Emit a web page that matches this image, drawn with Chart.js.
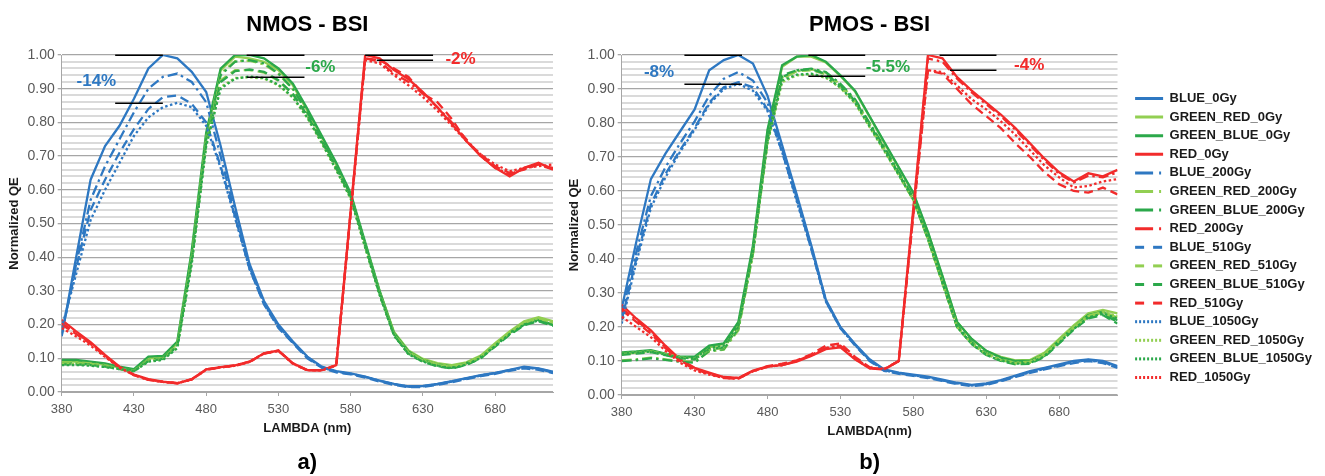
<!DOCTYPE html>
<html><head><meta charset="utf-8">
<script src="https://cdn.jsdelivr.net/npm/chart.js@4.4.1/dist/chart.umd.min.js"></script>
<style>
html,body{margin:0;padding:0;background:#fff;}
#wrap{position:relative;width:1325px;height:476px;overflow:hidden;background:#fff;}
#c1{position:absolute;left:0;top:0;}
#c2{position:absolute;left:530px;top:0;}
</style></head><body>
<div id="wrap"><canvas id="c1" width="560" height="476"></canvas><canvas id="c2" width="795" height="476"></canvas></div>
<script>
// ---------------- DATA ----------------
const wavelengths = [380,390,400,410,420,430,440,450,460,470,480,490,500,510,520,530,540,550,560,570,580,590,600,610,620,630,640,650,660,670,680,690,700,710,720];
const xTickValues = [380,430,480,530,580,630,680];
const channels = ['BLUE','GREEN_RED','GREEN_BLUE','RED'];
const doses = ['0Gy','200Gy','510Gy','1050Gy'];

// NMOS - BSI
const nmosBlue0    = [0.165,0.40,0.63,0.73,0.79,0.87,0.96,1.00,0.99,0.95,0.89,0.73,0.55,0.38,0.27,0.20,0.15,0.105,0.075,0.062,0.055,0.046,0.034,0.024,0.017,0.018,0.024,0.032,0.041,0.050,0.057,0.066,0.075,0.070,0.060];
const nmosBlue200  = [0.170,0.38,0.57,0.67,0.75,0.83,0.90,0.935,0.945,0.92,0.86,0.70,0.53,0.37,0.265,0.195,0.148,0.103,0.074,0.060,0.054,0.045,0.033,0.023,0.016,0.017,0.023,0.031,0.040,0.049,0.056,0.065,0.073,0.068,0.058];
const nmosBlue510  = [0.175,0.37,0.54,0.63,0.71,0.78,0.84,0.875,0.88,0.855,0.80,0.67,0.52,0.365,0.26,0.19,0.145,0.100,0.072,0.058,0.052,0.043,0.031,0.021,0.014,0.015,0.021,0.029,0.038,0.047,0.054,0.063,0.070,0.066,0.056];
const nmosBlue1050 = [0.190,0.35,0.51,0.60,0.68,0.76,0.815,0.845,0.858,0.845,0.79,0.665,0.515,0.365,0.262,0.192,0.147,0.102,0.073,0.060,0.054,0.045,0.033,0.023,0.016,0.017,0.023,0.031,0.040,0.049,0.056,0.065,0.073,0.069,0.059];

const nmosGreenRed0    = [0.090,0.090,0.088,0.082,0.072,0.065,0.100,0.103,0.145,0.41,0.76,0.955,0.995,0.99,0.98,0.955,0.91,0.835,0.755,0.675,0.585,0.44,0.30,0.178,0.123,0.098,0.086,0.080,0.088,0.108,0.145,0.180,0.210,0.222,0.210];
const nmosGreenRed200  = [0.088,0.088,0.085,0.080,0.070,0.064,0.097,0.101,0.142,0.405,0.755,0.945,0.982,0.983,0.972,0.944,0.898,0.828,0.748,0.668,0.583,0.438,0.296,0.173,0.118,0.095,0.082,0.077,0.086,0.106,0.142,0.177,0.207,0.220,0.207];
const nmosGreenRed510  = [0.085,0.085,0.083,0.078,0.069,0.063,0.094,0.099,0.138,0.395,0.745,0.925,0.955,0.955,0.948,0.923,0.883,0.818,0.743,0.663,0.578,0.433,0.291,0.170,0.116,0.093,0.080,0.075,0.084,0.104,0.140,0.175,0.205,0.218,0.205];
const nmosGreenRed1050 = [0.083,0.083,0.080,0.076,0.068,0.062,0.092,0.097,0.133,0.385,0.735,0.905,0.932,0.934,0.930,0.910,0.873,0.813,0.738,0.658,0.573,0.428,0.289,0.169,0.115,0.093,0.080,0.075,0.084,0.105,0.140,0.176,0.206,0.218,0.205];

const nmosGreenBlue0    = [0.095,0.095,0.090,0.085,0.075,0.068,0.105,0.107,0.150,0.42,0.77,0.96,1.00,1.00,0.99,0.96,0.915,0.84,0.76,0.68,0.59,0.445,0.30,0.175,0.120,0.095,0.082,0.076,0.085,0.105,0.140,0.175,0.205,0.215,0.200];
const nmosGreenBlue200  = [0.085,0.085,0.082,0.078,0.070,0.065,0.095,0.100,0.140,0.40,0.75,0.94,0.98,0.985,0.975,0.945,0.90,0.83,0.75,0.67,0.585,0.44,0.295,0.170,0.115,0.092,0.078,0.072,0.082,0.102,0.138,0.172,0.200,0.212,0.198];
const nmosGreenBlue510  = [0.082,0.082,0.080,0.075,0.068,0.062,0.092,0.098,0.135,0.39,0.74,0.92,0.952,0.957,0.95,0.925,0.885,0.82,0.745,0.665,0.58,0.435,0.29,0.168,0.113,0.090,0.076,0.070,0.080,0.100,0.135,0.170,0.198,0.210,0.196];
const nmosGreenBlue1050 = [0.080,0.080,0.078,0.074,0.068,0.062,0.090,0.095,0.130,0.38,0.73,0.90,0.93,0.936,0.932,0.912,0.875,0.815,0.74,0.66,0.575,0.43,0.288,0.167,0.112,0.090,0.077,0.071,0.081,0.101,0.137,0.172,0.200,0.212,0.198];

const nmosRed0    = [0.214,0.180,0.148,0.110,0.075,0.052,0.038,0.031,0.026,0.038,0.067,0.074,0.079,0.090,0.115,0.123,0.085,0.065,0.065,0.080,0.54,1.00,0.99,0.955,0.928,0.89,0.845,0.795,0.745,0.700,0.665,0.640,0.665,0.680,0.660];
const nmosRed200  = [0.205,0.175,0.145,0.108,0.074,0.051,0.037,0.030,0.026,0.038,0.067,0.074,0.079,0.090,0.115,0.123,0.085,0.065,0.065,0.080,0.535,0.99,0.98,0.945,0.920,0.885,0.845,0.800,0.750,0.700,0.665,0.645,0.665,0.675,0.665];
const nmosRed510  = [0.200,0.172,0.143,0.107,0.073,0.050,0.036,0.030,0.026,0.037,0.066,0.073,0.078,0.089,0.114,0.122,0.084,0.064,0.064,0.079,0.535,0.99,0.985,0.960,0.935,0.885,0.860,0.810,0.745,0.705,0.670,0.650,0.660,0.675,0.660];
const nmosRed1050 = [0.190,0.165,0.138,0.104,0.072,0.050,0.036,0.030,0.026,0.037,0.066,0.073,0.078,0.089,0.114,0.122,0.084,0.064,0.064,0.079,0.530,0.985,0.975,0.940,0.910,0.875,0.835,0.790,0.745,0.705,0.675,0.655,0.665,0.670,0.675];

// PMOS - BSI
const pmosBlue0    = [0.255,0.45,0.635,0.71,0.775,0.84,0.955,0.985,1.00,0.975,0.88,0.735,0.59,0.44,0.28,0.20,0.15,0.105,0.075,0.066,0.060,0.054,0.045,0.036,0.030,0.034,0.044,0.057,0.070,0.080,0.090,0.100,0.105,0.100,0.085];
const pmosBlue200  = [0.235,0.42,0.585,0.67,0.74,0.805,0.88,0.93,0.95,0.925,0.86,0.725,0.58,0.435,0.278,0.198,0.148,0.103,0.073,0.064,0.058,0.052,0.043,0.034,0.028,0.032,0.042,0.055,0.068,0.078,0.088,0.097,0.103,0.097,0.083];
const pmosBlue510  = [0.220,0.40,0.56,0.65,0.72,0.785,0.86,0.905,0.92,0.905,0.84,0.715,0.575,0.43,0.275,0.196,0.146,0.100,0.071,0.062,0.056,0.050,0.041,0.032,0.026,0.030,0.040,0.053,0.065,0.075,0.085,0.094,0.100,0.094,0.080];
const pmosBlue1050 = [0.210,0.39,0.55,0.64,0.715,0.78,0.855,0.90,0.915,0.895,0.835,0.715,0.57,0.43,0.275,0.197,0.147,0.102,0.073,0.064,0.058,0.052,0.043,0.034,0.028,0.032,0.042,0.055,0.067,0.077,0.087,0.096,0.102,0.096,0.082];

const pmosGreenRed0    = [0.120,0.125,0.130,0.120,0.112,0.110,0.140,0.150,0.210,0.43,0.775,0.965,0.995,0.995,0.978,0.938,0.893,0.818,0.742,0.668,0.592,0.478,0.348,0.215,0.165,0.130,0.112,0.102,0.103,0.125,0.165,0.205,0.240,0.250,0.240];
const pmosGreenRed200  = [0.102,0.105,0.110,0.105,0.100,0.097,0.128,0.133,0.190,0.415,0.745,0.93,0.952,0.958,0.948,0.913,0.868,0.798,0.728,0.653,0.578,0.463,0.333,0.205,0.156,0.123,0.105,0.095,0.098,0.120,0.160,0.200,0.233,0.245,0.228];
const pmosGreenRed510  = [0.120,0.124,0.128,0.119,0.110,0.106,0.133,0.138,0.198,0.42,0.75,0.935,0.952,0.955,0.943,0.908,0.863,0.793,0.723,0.648,0.573,0.458,0.328,0.200,0.151,0.120,0.102,0.093,0.096,0.118,0.158,0.198,0.230,0.242,0.225];
const pmosGreenRed1050 = [0.123,0.126,0.129,0.120,0.111,0.108,0.136,0.143,0.200,0.415,0.74,0.92,0.94,0.943,0.933,0.903,0.858,0.788,0.718,0.646,0.573,0.458,0.328,0.200,0.151,0.120,0.103,0.094,0.097,0.119,0.159,0.199,0.232,0.245,0.232];

const pmosGreenBlue0    = [0.125,0.128,0.132,0.122,0.113,0.113,0.145,0.152,0.215,0.44,0.78,0.97,0.995,1.00,0.98,0.94,0.895,0.82,0.745,0.67,0.595,0.48,0.35,0.215,0.165,0.130,0.110,0.100,0.100,0.120,0.160,0.200,0.235,0.245,0.220];
const pmosGreenBlue200  = [0.100,0.103,0.108,0.103,0.098,0.095,0.130,0.135,0.195,0.42,0.75,0.935,0.955,0.96,0.95,0.915,0.87,0.80,0.73,0.655,0.58,0.465,0.335,0.205,0.155,0.122,0.103,0.093,0.095,0.115,0.155,0.195,0.228,0.238,0.215];
const pmosGreenBlue510  = [0.118,0.122,0.126,0.117,0.108,0.105,0.135,0.140,0.200,0.425,0.755,0.94,0.955,0.958,0.945,0.91,0.865,0.795,0.725,0.65,0.575,0.46,0.33,0.200,0.150,0.118,0.100,0.090,0.092,0.112,0.152,0.192,0.225,0.235,0.210];
const pmosGreenBlue1050 = [0.122,0.125,0.128,0.118,0.110,0.108,0.138,0.145,0.205,0.42,0.745,0.925,0.942,0.945,0.935,0.905,0.86,0.79,0.72,0.648,0.575,0.46,0.33,0.200,0.150,0.118,0.101,0.092,0.094,0.114,0.154,0.194,0.228,0.240,0.225];

const pmosRed0    = [0.265,0.225,0.190,0.145,0.105,0.080,0.066,0.053,0.050,0.072,0.084,0.088,0.098,0.115,0.135,0.140,0.105,0.078,0.075,0.100,0.55,1.00,0.99,0.935,0.895,0.860,0.825,0.785,0.740,0.695,0.655,0.628,0.652,0.643,0.662];
const pmosRed200  = [0.255,0.220,0.185,0.140,0.102,0.078,0.064,0.052,0.050,0.070,0.083,0.088,0.100,0.118,0.138,0.145,0.108,0.080,0.076,0.100,0.54,0.99,0.98,0.930,0.890,0.855,0.820,0.780,0.735,0.690,0.650,0.625,0.645,0.640,0.655];
const pmosRed510  = [0.250,0.215,0.180,0.138,0.100,0.076,0.062,0.050,0.048,0.070,0.085,0.092,0.102,0.120,0.145,0.152,0.112,0.082,0.077,0.100,0.53,0.955,0.945,0.900,0.855,0.820,0.785,0.740,0.700,0.655,0.620,0.600,0.595,0.610,0.590];
const pmosRed1050 = [0.230,0.200,0.170,0.130,0.095,0.072,0.060,0.050,0.048,0.070,0.083,0.088,0.100,0.116,0.138,0.145,0.106,0.079,0.076,0.100,0.535,0.955,0.95,0.910,0.870,0.840,0.805,0.765,0.720,0.675,0.640,0.610,0.615,0.628,0.635];

// Annotation marks (wavelength from, wavelength to, QE) and labels (text, wavelength, QE, channel)
const nmosMarkLines  = [[417,450,1.0],[417,450,0.858],[508,548,1.0],[508,548,0.936],[590,637,1.0],[598,637,0.985]];
const nmosMarkLabels = [['-14%',404,0.923,'BLUE'],['-6%',559,0.964,'GREEN_BLUE'],['-2%',656,0.988,'RED']];
const pmosMarkLines  = [[423,462.5,1.0],[423,462.5,0.915],[508,547,1.0],[508,547,0.939],[598,637,1.0],[605,637,0.956]];
const pmosMarkLabels = [['-8%',405.6,0.95,'BLUE'],['-5.5%',562.6,0.965,'GREEN_BLUE'],['-4%',659.4,0.971,'RED']];

// ---------------- STYLE ----------------
const FONT = "'Liberation Sans', Arial, sans-serif";
Chart.defaults.font.family = FONT;
const chColor = {BLUE:'#2e78c2', GREEN_RED:'#92cf52', GREEN_BLUE:'#2ba84a', RED:'#f22b2b'};
const doseDash = {'0Gy':[], '200Gy':[10,4,2.5,4], '510Gy':[9,5], '1050Gy':[2.5,2.5]};
const legendDash = {'0Gy':[], '200Gy':[18,6,2,6], '510Gy':[9,9], '1050Gy':[2,2]};

const nmosTable = {BLUE:[nmosBlue0,nmosBlue200,nmosBlue510,nmosBlue1050], GREEN_RED:[nmosGreenRed0,nmosGreenRed200,nmosGreenRed510,nmosGreenRed1050], GREEN_BLUE:[nmosGreenBlue0,nmosGreenBlue200,nmosGreenBlue510,nmosGreenBlue1050], RED:[nmosRed0,nmosRed200,nmosRed510,nmosRed1050]};
const pmosTable = {BLUE:[pmosBlue0,pmosBlue200,pmosBlue510,pmosBlue1050], GREEN_RED:[pmosGreenRed0,pmosGreenRed200,pmosGreenRed510,pmosGreenRed1050], GREEN_BLUE:[pmosGreenBlue0,pmosGreenBlue200,pmosGreenBlue510,pmosGreenBlue1050], RED:[pmosRed0,pmosRed200,pmosRed510,pmosRed1050]};

function buildDatasets(table){
  const out = [];
  doses.forEach((d, di) => {
    channels.forEach(c => {
      const idx = out.length;
      out.push({
        label: c + '_' + d,
        dose: d,
        order: -idx, // later series drawn on top, as in the original
        data: wavelengths.map((w, i) => ({x: w, y: table[c][di][i]})),
        borderColor: chColor[c],
        backgroundColor: chColor[c],
        borderDash: doseDash[d],
        borderWidth: 2.3,
        pointRadius: 0,
        tension: 0,
        fill: false
      });
    });
  });
  return out;
}

const isMajor = v => Math.abs(v * 10 - Math.round(v * 10)) < 1e-6;

const annotPlugin = {
  id: 'annot',
  afterLayout(chart, args, opts) {
    if (opts && opts.legendShift && chart.legend && chart.options.plugins.legend.display) {
      chart.legend.left += opts.legendShift;
      chart.legend.right += opts.legendShift;
    }
  },
  afterDatasetsDraw(chart, args, opts) {
    if (!opts || !opts.lines) return;
    const {ctx} = chart; const x = chart.scales.x, y = chart.scales.y;
    ctx.save();
    ctx.strokeStyle = '#000'; ctx.lineWidth = 1.5; ctx.setLineDash([]);
    opts.lines.forEach(([a, b, v]) => {
      const py = Math.round(y.getPixelForValue(v)) + 0.25;
      ctx.beginPath(); ctx.moveTo(x.getPixelForValue(a), py); ctx.lineTo(x.getPixelForValue(b), py); ctx.stroke();
    });
    ctx.font = 'bold 17px ' + FONT; ctx.textAlign = 'center'; ctx.textBaseline = 'middle';
    opts.labels.forEach(([t, xv, yv, ch]) => {
      ctx.fillStyle = chColor[ch];
      ctx.fillText(t, x.getPixelForValue(xv), y.getPixelForValue(yv));
    });
    ctx.restore();
  }
};

function buildOptions(p){
  const scales = {
    x: {
      type: 'linear', min: 380, max: 720,
      afterBuildTicks: s => { s.ticks = xTickValues.map(v => ({value: v})); },
      afterFit: s => { s.height = p.xAxisHeight; },
      ticks: {color: '#595959', font: {family: FONT, size: 13}, padding: 5.5, maxRotation: 0, autoSkip: false, callback: v => String(v)},
      grid: {display: true, drawOnChartArea: false, drawTicks: true, tickLength: 4, color: '#a6a6a6', tickColor: '#a6a6a6'},
      border: {display: true, color: '#a6a6a6', width: 1},
      title: {display: true, text: p.xTitle, color: '#1a1a1a', font: {family: FONT, size: 13, weight: 'bold'}, padding: {top: 0, bottom: p.xTitlePad}}
    },
    y: {
      type: 'linear', min: 0, max: 1,
      afterBuildTicks: s => { const t = []; for (let i = 0; i <= 50; i++) t.push({value: i / 50}); s.ticks = t; },
      afterFit: s => { s.width = p.yAxisWidth; },
      ticks: {autoSkip: false, color: '#595959', font: {family: FONT, size: 14}, padding: 3, callback: v => isMajor(v) ? v.toFixed(2) : ''},
      grid: {
        color: c => (c.tick && isMajor(c.tick.value)) ? '#a6a6a6' : '#dadada',
        lineWidth: c => (c.tick && isMajor(c.tick.value)) ? 1.3 : 2,
        tickLength: 4,
        tickColor: c => (c.tick && isMajor(c.tick.value)) ? '#a6a6a6' : 'rgba(0,0,0,0)'
      },
      border: {display: true, color: '#a6a6a6', width: 1},
      title: {display: true, text: 'Normalized QE', color: '#1a1a1a', font: {family: FONT, size: 13, weight: 'bold'}, padding: {top: p.yTitlePad, bottom: 0}}
    }
  };
  return {
    responsive: false, animation: false, devicePixelRatio: 1,
    layout: {padding: {left: 0, right: p.padRight, top: 0, bottom: 0}},
    plugins: {
      title: {display: true, text: p.title, fullSize: false, color: '#000', font: {family: FONT, size: 22, weight: 'bold'}, padding: {top: 12, bottom: 16.6}},
      subtitle: {display: true, text: p.caption, position: 'bottom', fullSize: false, color: '#000', font: {family: FONT, size: 22, weight: 'bold'}, padding: {top: 0, bottom: 0}},
      legend: p.withLegend ? {
        display: true, position: 'right', align: 'center', fullSize: true, maxWidth: 192,
        labels: {
          usePointStyle: true, pointStyle: 'line', pointStyleWidth: 28, boxHeight: 13, padding: 5.6,
          color: '#1a1a1a', font: {family: FONT, size: 13, weight: 'bold'},
          generateLabels: chart => chart.data.datasets.map((ds, i) => ({
            text: ds.label, strokeStyle: ds.borderColor, fillStyle: ds.borderColor, fontColor: '#1a1a1a',
            lineDash: legendDash[ds.dose], lineWidth: 3, lineCap: 'butt', pointStyle: 'line', hidden: false, datasetIndex: i
          }))
        }
      } : {display: false},
      tooltip: {enabled: false},
      annot: {lines: p.markLines, labels: p.markLabels, legendShift: p.legendShift || 0}
    },
    scales
  };
}

new Chart(document.getElementById('c1'), {
  type: 'line',
  data: {datasets: buildDatasets(nmosTable)},
  options: buildOptions({title: 'NMOS - BSI', caption: 'a)', xTitle: 'LAMBDA (nm)', xAxisHeight: 57.6, xTitlePad: 13.8, yAxisWidth: 61.7, yTitlePad: 6.2, padRight: 7, withLegend: false, markLines: nmosMarkLines, markLabels: nmosMarkLabels}),
  plugins: [annotPlugin]
});

new Chart(document.getElementById('c2'), {
  type: 'line',
  data: {datasets: buildDatasets(pmosTable)},
  options: buildOptions({title: 'PMOS - BSI', caption: 'b)', xTitle: 'LAMBDA(nm)', xAxisHeight: 54.6, xTitlePad: 10.8, yAxisWidth: 91.7, yTitlePad: 36.2, padRight: 15.5, withLegend: true, legendShift: 12, markLines: pmosMarkLines, markLabels: pmosMarkLabels}),
  plugins: [annotPlugin]
});
</script>
</body></html>
